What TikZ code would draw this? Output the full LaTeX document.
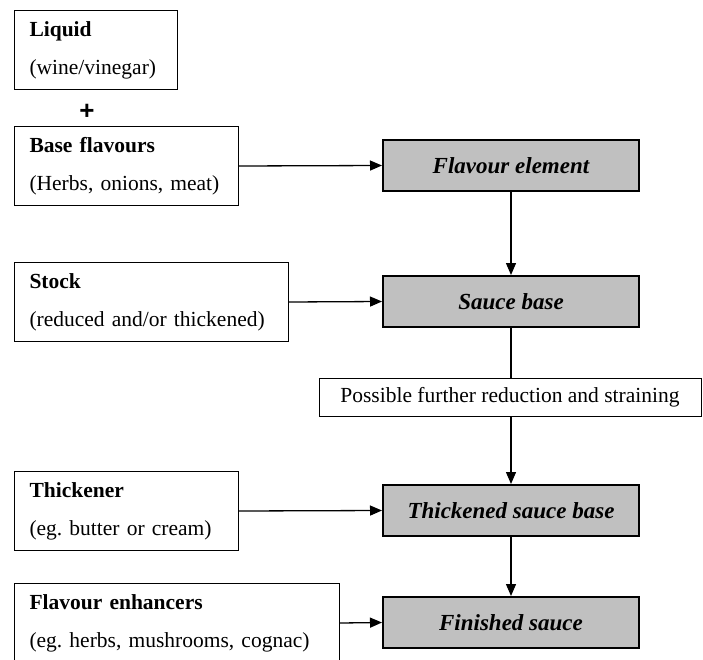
\documentclass[tikz,border=0pt]{standalone}
\usepackage{fontspec}
\setmainfont{Liberation Serif}
\newfontfamily\plusfont{Liberation Sans}
\usetikzlibrary{arrows.meta}
\definecolor{stagegray}{RGB}{192,192,192}
\frenchspacing
\tikzset{
  inbox/.style={draw,line width=1pt,anchor=north west,align=left,inner xsep=15pt,
    minimum height=79pt,font=\fontsize{21.5}{38}\selectfont},
  stage/.style={draw,line width=2pt,fill=stagegray,minimum width=256pt,minimum height=51pt,
    font=\fontsize{23}{27}\selectfont\bfseries\itshape},
  note/.style={draw,line width=1pt,minimum width=382pt,minimum height=38pt,
    font=\fontsize{21.5}{26}\selectfont},
  flow/.style={line width=1.3pt,-{Triangle[length=12pt,width=10pt]}}
}
\begin{document}
\begin{tikzpicture}[x=1pt,y=-1pt]
  \useasboundingbox (0,0) rectangle (703,660);

  \node[inbox,text width=133pt] (L1) at (14, 10) {\textbf{Liquid}\\(wine/vinegar)};
  \node[font=\plusfont\bfseries\fontsize{26}{26}\selectfont] (LP) at (87, 112) {+};
  \node[inbox,text width=194pt] (L2) at (14, 126) {\textbf{Base flavours}\\(Herbs, onions, meat)};
  \node[inbox,text width=244pt] (L3) at (14, 262) {\textbf{Stock}\\(reduced and/or thickened)};
  \node[inbox,text width=194pt] (L4) at (14, 471) {\textbf{Thickener}\\(eg. butter or cream)};
  \node[inbox,text width=295pt] (L5) at (14, 583) {\textbf{Flavour enhancers}\\(eg. herbs, mushrooms, cognac)};

  \node[stage] (S1) at (511, 165.5) {Flavour element};
  \node[stage] (S2) at (511, 301.5) {Sauce base};
  \node[note] (SR) at (510, 397) {Possible further reduction and straining};
  \node[stage] (S3) at (511, 510.5) {Thickened sauce base};
  \node[stage] (S4) at (511, 622.5) {Finished sauce};

  \draw[flow] (L2.east) -- (S1.west);
  \draw[flow] (L3.east) -- (S2.west);
  \draw[flow] (L4.east) -- (S3.west);
  \draw[flow] (L5.east) -- (S4.west);

  \draw[flow] (S1) -- (S2);
  \draw[line width=1.3pt] (S2) -- (S2 |- SR.north);
  \draw[flow] (S3 |- SR.south) -- (S3);
  \draw[flow] (S3) -- (S4);
\end{tikzpicture}
\end{document}
